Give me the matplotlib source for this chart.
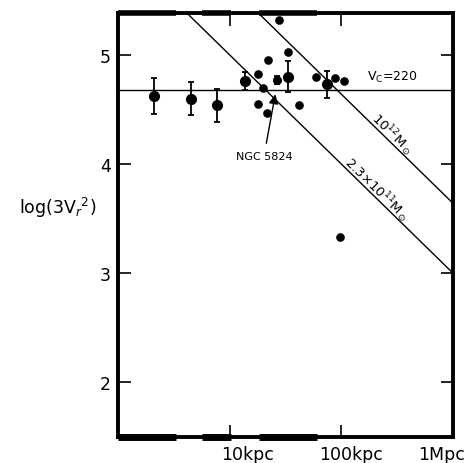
import numpy as np
import matplotlib.pyplot as plt

# points with error bars (r in kpc, log(3 Vr^2), error)
r_err = [2.11, 4.48, 7.64, 13.6, 33.5, 73.8, 26.3]
y_err = [4.62, 4.60, 4.54, 4.76, 4.80, 4.73, 4.77]
e_err = [0.165, 0.15, 0.15, 0.08, 0.14, 0.12, 0.035]
big = [True, True, True, True, True, True, False]

# single points
r_pts = [27.6, 22.0, 33.5, 17.8, 19.7, 18.0, 21.7, 41.9, 59.6, 88.3, 105.7, 96.5]
y_pts = [5.32, 4.95, 5.03, 4.83, 4.70, 4.55, 4.47, 4.54, 4.80, 4.79, 4.76, 3.33]

# thick marks along top and bottom (kpc ranges)
bars = [(1.0, 3.3), (5.7, 10.2), (18.2, 60.8)]

vc_level = 4.68
mass_lines = [6.64, 6.0]   # log(3Vr^2) = C - log r

fig = plt.figure(figsize=(4.72, 4.64), dpi=100)
ax = fig.add_axes([0.25, 0.056, 0.71, 0.914])
ax.set_xscale('log')
ax.set_xlim(1, 1000)
ax.set_ylim(1.5, 5.385)

ax.axhline(vc_level, color='k', lw=1)
xx = np.array([1.0, 1000.0])
for c in mass_lines:
    ax.plot(xx, c - np.log10(xx), color='k', lw=1)

for r, y, e, b in zip(r_err, y_err, e_err, big):
    ax.errorbar(r, y, yerr=e, fmt='o', color='k', ms=7 if b else 5.5,
                capsize=2.5, elinewidth=1.3, capthick=1.3)
ax.plot(r_pts, y_pts, 'o', color='k', ms=5.2, clip_on=False)

for a, b in bars:
    ax.plot([a, b], [1.5, 1.5], color='k', lw=5, solid_capstyle='butt', clip_on=False)
    ax.plot([a, b], [5.385, 5.385], color='k', lw=4, solid_capstyle='butt', clip_on=False)

ax.annotate('NGC 5824', xy=(10**1.408, 4.64), xytext=(10**1.306, 4.07),
            ha='center', va='center', fontsize=8,
            arrowprops=dict(arrowstyle='-|>', color='k', lw=1, mutation_scale=14,
                            shrinkA=4, shrinkB=0))

ax.text(168, 4.80, r'V$_{\rm C}$=220', fontsize=9, ha='left', va='center')
ax.text(10**2.45, 4.284, r'10$^{12}$M$_\odot$', fontsize=9.5, rotation=-44.5,
        ha='center', va='center', rotation_mode='anchor')
ax.text(10**2.315, 3.78, r'2.3$\times$10$^{11}$M$_\odot$', fontsize=9.5, rotation=-44.5,
        ha='center', va='center', rotation_mode='anchor')

ax.set_yticks([2, 3, 4, 5])
ax.set_xticks([10, 100])
ax.set_xticklabels([])
ax.minorticks_off()
ax.tick_params(axis='both', direction='in', length=9, width=1.2,
               top=True, right=True, labelsize=12.5, pad=5)
for s in ax.spines.values():
    s.set_linewidth(2.8)

for x, lab in [(0.92, '10kpc'), (1.80, '100kpc'), (2.69, '1Mpc')]:
    ax.text(10**x, -0.02, lab, transform=ax.get_xaxis_transform(),
            ha='left', va='top', fontsize=12.5)

ax.text(-0.18, 3.606, r'log(3V$_r$$^2$)', transform=ax.get_yaxis_transform(),
        ha='center', va='center', fontsize=12.5)

fig.savefig('out.png', dpi=100)
